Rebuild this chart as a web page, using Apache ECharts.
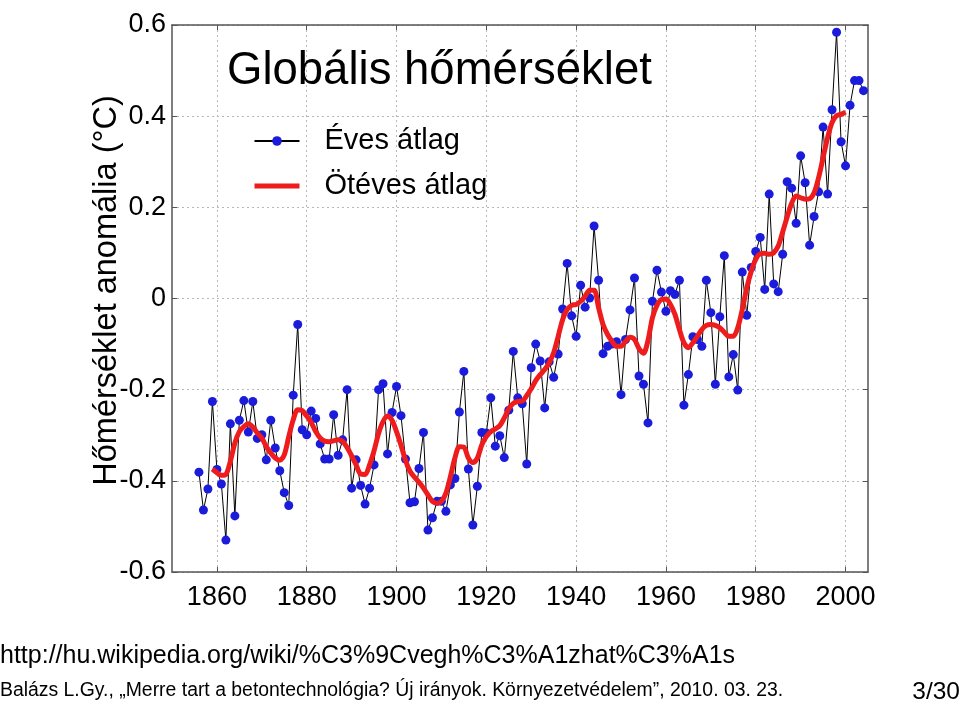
<!DOCTYPE html>
<html><head><meta charset="utf-8">
<script src="https://cdn.jsdelivr.net/npm/echarts@6/dist/echarts.min.js"></script>
<style>html,body{margin:0;padding:0;background:#fff}#c{width:960px;height:707px}</style>
</head><body><div id="c"></div>
<script>
// ---- data ----
const firstYear = 1856;
const annual = [
 -0.381,-0.464,-0.418,-0.226,-0.375,-0.407,-0.530,-0.275,-0.477,-0.267,
 -0.224,-0.293,-0.226,-0.307,-0.299,-0.354,-0.267,-0.328,-0.378,-0.426,
 -0.454,-0.212,-0.057,-0.288,-0.299,-0.247,-0.263,-0.319,-0.352,-0.352,
 -0.255,-0.344,-0.310,-0.200,-0.416,-0.354,-0.410,-0.451,-0.416,-0.365,
 -0.200,-0.187,-0.341,-0.250,-0.193,-0.257,-0.352,-0.448,-0.446,-0.373,
 -0.294,-0.508,-0.481,-0.445,-0.445,-0.467,-0.409,-0.395,-0.249,-0.160,
 -0.374,-0.497,-0.412,-0.294,-0.295,-0.218,-0.324,-0.301,-0.349,-0.245,
 -0.116,-0.218,-0.231,-0.363,-0.152,-0.100,-0.137,-0.240,-0.139,-0.173,
 -0.122,-0.023,0.077,-0.038,-0.083,0.029,-0.019,0.001,0.159,0.040,
 -0.121,-0.105,-0.100,-0.095,-0.211,-0.090,-0.025,0.045,-0.170,-0.188,
 -0.273,-0.006,0.062,0.014,-0.028,0.017,0.009,0.040,-0.234,-0.167,
 -0.084,-0.090,-0.105,0.040,-0.031,-0.188,-0.040,0.094,-0.172,-0.123,
 -0.201,0.058,-0.037,0.068,0.103,0.134,0.020,0.229,0.032,0.015,
 0.097,0.256,0.242,0.165,0.313,0.254,0.117,0.180,0.234,0.376,
 0.229,0.414,0.584,0.344,0.291,0.424,0.478,0.478,0.456
];
const smoothFirstYear = 1859;
const smooth = [
 -0.374,-0.382,-0.388,-0.386,-0.357,-0.317,-0.292,-0.281,-0.275,-0.282,
 -0.295,-0.306,-0.325,-0.339,-0.350,-0.355,-0.343,-0.303,-0.266,-0.244,
 -0.246,-0.258,-0.272,-0.292,-0.306,-0.313,-0.314,-0.312,-0.310,-0.313,
 -0.327,-0.345,-0.365,-0.385,-0.386,-0.365,-0.334,-0.296,-0.270,-0.258,
 -0.267,-0.292,-0.322,-0.355,-0.379,-0.392,-0.403,-0.416,-0.431,-0.445,
 -0.449,-0.445,-0.427,-0.391,-0.350,-0.325,-0.326,-0.350,-0.360,-0.350,
 -0.321,-0.303,-0.292,-0.286,-0.279,-0.262,-0.242,-0.230,-0.226,-0.225,
 -0.213,-0.198,-0.180,-0.167,-0.156,-0.141,-0.119,-0.083,-0.046,-0.024,
 -0.015,-0.013,-0.006,0.005,0.018,0.018,-0.020,-0.057,-0.079,-0.094,
 -0.105,-0.105,-0.094,-0.085,-0.090,-0.110,-0.120,-0.092,-0.042,-0.015,
 -0.002,-0.001,-0.013,-0.035,-0.068,-0.097,-0.108,-0.097,-0.083,-0.068,
 -0.059,-0.057,-0.059,-0.064,-0.074,-0.083,-0.083,-0.064,-0.024,0.023,
 0.060,0.086,0.098,0.099,0.097,0.100,0.115,0.146,0.179,0.209,
 0.225,0.221,0.218,0.219,0.232,0.265,0.309,0.353,0.386,0.401,
 0.404,0.409
];
const xTicks = [1860,1880,1900,1920,1940,1960,1980,2000];
const xMin = 1850, xMax = 2005;
const yMin = -0.6, yMax = 0.6, yStep = 0.2;
const titleText = 'Globális hőmérséklet';
const yName = 'Hőmérséklet anomália (°C)';
const seriesNames = ['Éves átlag', 'Ötéves átlag'];
const sourceText = 'http://hu.wikipedia.org/wiki/%C3%9Cvegh%C3%A1zhat%C3%A1s';
const footerText = 'Balázs L.Gy., „Merre tart a betontechnológia? Új irányok. Környezetvédelem”, 2010. 03. 23.';
const pageText = '3/30';

// ---- build ----
const annualPairs = annual.map((v, i) => [firstYear + i, v]);
const smoothPairs = smooth.map((v, i) => [smoothFirstYear + i, v]);
const FF = '"Liberation Sans", Arial, Helvetica, sans-serif';
const axisCol = '#555';
const redCol = '#ee1c1c';
const gridLine = { show: true, lineStyle: { color: '#b8b8b8', width: 1, type: [2, 3] } };
const yFmt = v => Math.abs(v) < 1e-9 ? '0' : String(+v.toFixed(1));
const xFmt = v => String(v);

const chart = echarts.init(document.getElementById('c'), null, { renderer: 'canvas' });
chart.setOption({
  animation: false,
  backgroundColor: '#fff',
  title: {
    text: titleText, left: 227, top: 48, padding: 0,
    textStyle: { fontFamily: FF, fontSize: 45.5, fontWeight: 'normal', color: '#000', lineHeight: 46 }
  },
  legend: {
    left: 252, top: 125, orient: 'vertical', itemWidth: 45, itemHeight: 12, itemGap: 13, padding: 0,
    data: [
      { name: seriesNames[0] },
      { name: seriesNames[1], itemStyle: { opacity: 0 }, lineStyle: { width: 5, color: redCol } }
    ],
    textStyle: { fontFamily: FF, fontSize: 29, color: '#000', lineHeight: 32, padding: [0, 0, 0, 20] }
  },
  grid: { left: 172, right: 92, top: 25, bottom: 135, containLabel: false },
  xAxis: [{
    type: 'value', min: xMin, max: xMax, position: 'bottom',
    axisLine: { show: true, onZero: false, lineStyle: { color: axisCol, width: 1.5 } },
    axisTick: { show: true, inside: true, length: 5, customValues: xTicks, lineStyle: { color: axisCol } },
    axisLabel: { show: true, customValues: xTicks, margin: 12, fontFamily: FF, fontSize: 27, color: '#000', formatter: xFmt },
    splitLine: gridLine
  }, {
    type: 'value', min: xMin, max: xMax, position: 'top',
    axisLine: { show: true, onZero: false, lineStyle: { color: axisCol, width: 1.5 } },
    axisTick: { show: true, inside: true, length: 5, customValues: xTicks, lineStyle: { color: axisCol } },
    axisLabel: { show: false },
    splitLine: { show: false }
  }],
  yAxis: [{
    type: 'value', min: yMin, max: yMax, interval: yStep, position: 'left',
    name: yName, nameLocation: 'middle', nameRotate: 90, nameGap: 48, nameMoveOverlap: false,
    nameTextStyle: { fontFamily: FF, fontSize: 32.5, color: '#000', padding: [0, 0, 0, 16] },
    axisLine: { show: true, onZero: false, lineStyle: { color: axisCol, width: 1.5 } },
    axisTick: { show: true, inside: true, length: 5, lineStyle: { color: axisCol } },
    axisLabel: { show: true, margin: 6, fontFamily: FF, fontSize: 27, color: '#000', formatter: yFmt },
    splitLine: gridLine
  }, {
    type: 'value', min: yMin, max: yMax, interval: yStep, position: 'right',
    axisLine: { show: true, onZero: false, lineStyle: { color: axisCol, width: 1.5 } },
    axisTick: { show: true, inside: true, length: 5, lineStyle: { color: axisCol } },
    axisLabel: { show: false },
    splitLine: { show: false }
  }],
  series: [{
    name: seriesNames[0], type: 'line', data: annualPairs,
    symbol: 'circle', symbolSize: 9, showSymbol: true,
    lineStyle: { color: '#000', width: 1 },
    itemStyle: { color: '#1b1bdb' },
    z: 2
  }, {
    name: seriesNames[1], type: 'line', data: smoothPairs,
    symbol: 'none', smooth: 0.3,
    lineStyle: { color: redCol, width: 5 },
    itemStyle: { color: redCol },
    z: 3
  }],
  graphic: [
    { type: 'text', x: 0, y: 656, style: { text: sourceText, fontFamily: FF, fontSize: 25, fill: '#000', verticalAlign: 'middle' } },
    { type: 'text', x: 0, y: 691, style: { text: footerText, fontFamily: FF, fontSize: 19.4, fill: '#000', verticalAlign: 'middle' } },
    { type: 'text', x: 960, y: 692, style: { text: pageText, fontFamily: FF, fontSize: 24.5, fill: '#000', align: 'right', verticalAlign: 'middle' } }
  ]
});
</script></body></html>
